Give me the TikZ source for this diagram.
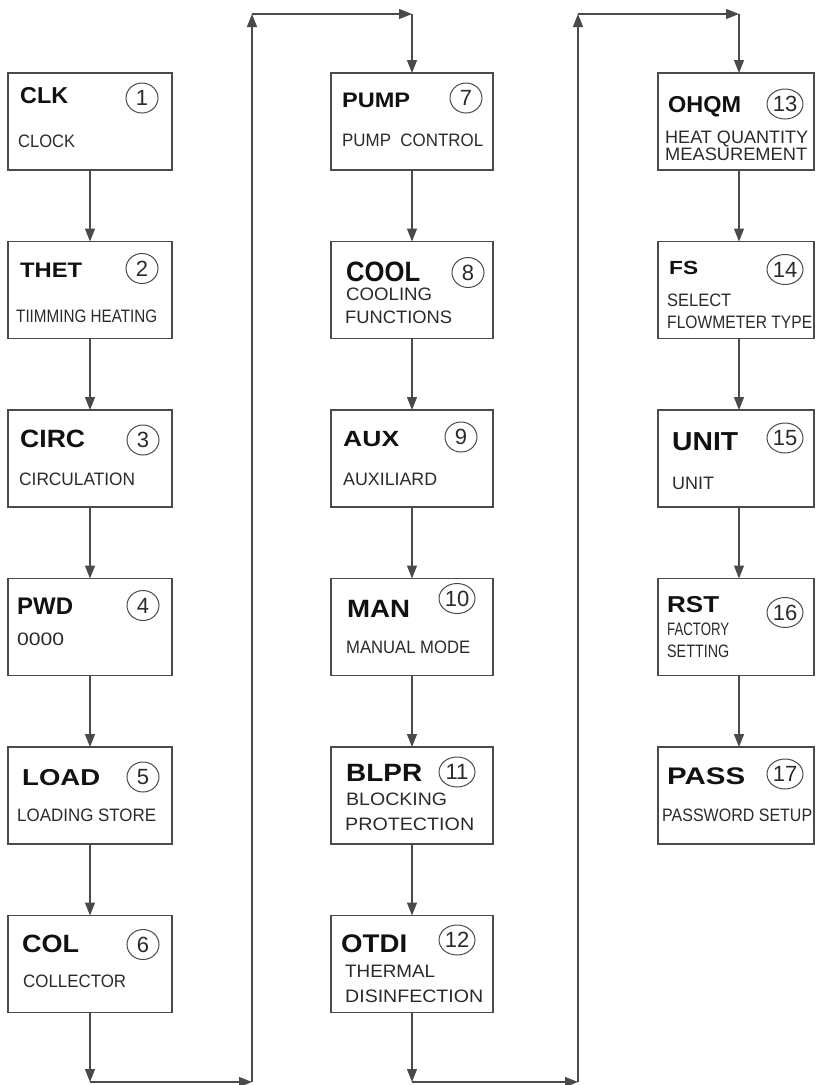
\documentclass[tikz,border=0pt]{standalone}
\usepackage{fontspec}
\setmainfont{Liberation Sans}
\usetikzlibrary{arrows.meta,calc,shapes.geometric}
\definecolor{linec}{HTML}{4A4A4A}
\definecolor{subc}{HTML}{2A2A2A}
\definecolor{ttlc}{HTML}{111111}
\newsavebox\fitbox
\newcommand\fitw[2]{\sbox\fitbox{#2}\pgfmathsetmacro\fitsc{#1/\the\wd\fitbox}\scalebox{\fitsc}[1]{\usebox\fitbox}}
\newcommand\tf[1]{\fontsize{#1}{#1}\selectfont\bfseries}
\tikzset{
  mbox/.style={draw=linec, line width=1.2pt, minimum height=97pt, anchor=north west, inner sep=0pt, outer sep=0pt},
  colA/.style={mbox, minimum width=164pt},
  colB/.style={mbox, minimum width=162pt},
  colC/.style={mbox, minimum width=156pt},
  ttl/.style={anchor=base west, inner sep=0pt, text=ttlc},
  sub/.style={anchor=base west, inner sep=0pt, text=subc, font=\fontsize{18}{18}\selectfont},
  num/.style={ellipse, draw=linec, line width=1pt, minimum width=32pt, minimum height=30pt, inner sep=0pt, text=subc, font=\fontsize{22}{22}\selectfont},
  numw/.style={num, minimum width=36pt},
  arr/.style={draw=linec, line width=1.2pt, -{Triangle[length=13pt,width=10pt]}}
}
\begin{document}
\begin{tikzpicture}[x=1pt,y=-1pt]
\useasboundingbox (0,0) rectangle (815,1085);
% ---------- column 1 ----------
\node[colA] (b1) at (8,73) {};
\node[colA] (b2) at (8,241.5) {};
\node[colA] (b3) at (8,410) {};
\node[colA] (b4) at (8,578.5) {};
\node[colA] (b5) at (8,747) {};
\node[colA] (b6) at (8,915.5) {};
% ---------- column 2 ----------
\node[colB] (b7) at (331,73) {};
\node[colB] (b8) at (331,241.5) {};
\node[colB] (b9) at (331,410) {};
\node[colB] (b10) at (331,578.5) {};
\node[colB] (b11) at (331,747) {};
\node[colB] (b12) at (331,915.5) {};
% ---------- column 3 ----------
\node[colC] (b13) at (658,73) {};
\node[colC] (b14) at (658,241.5) {};
\node[colC] (b15) at (658,410) {};
\node[colC] (b16) at (658,578.5) {};
\node[colC] (b17) at (658,747) {};

% ---------- texts column 1 ----------
\node[ttl,font=\tf{23}] (t1) at ($(b1.north west)+(12,30)$) {\fitw{48}{CLK}};
\node[num] (n1) at ($(b1.north west)+(134,25)$) {1};
\node[sub] (s1) at ($(b1.north west)+(10,74)$) {\fitw{57}{CLOCK}};

\node[ttl,font=\tf{21}] (t2) at ($(b2.north west)+(12,36)$) {\fitw{62}{THET}};
\node[num] (n2) at ($(b2.north west)+(134,27)$) {2};
\node[sub] (s2) at ($(b2.north west)+(8,81)$) {\fitw{141}{TIIMMING HEATING}};

\node[ttl,font=\tf{25}] (t3) at ($(b3.north west)+(12,37)$) {\fitw{65}{CIRC}};
\node[num] (n3) at ($(b3.north west)+(135,30)$) {3};
\node[sub] (s3) at ($(b3.north west)+(11,75)$) {\fitw{116}{CIRCULATION}};

\node[ttl,font=\tf{24}] (t4) at ($(b4.north west)+(9,36)$) {\fitw{56}{PWD}};
\node[num] (n4) at ($(b4.north west)+(135,27)$) {4};
\node[sub] (s4) at ($(b4.north west)+(9,67)$) {\fitw{47}{0000}};

\node[ttl,font=\tf{23}] (t5) at ($(b5.north west)+(14,38)$) {\fitw{78}{LOAD}};
\node[num] (n5) at ($(b5.north west)+(135,30)$) {5};
\node[sub] (s5) at ($(b5.north west)+(9,74)$) {\fitw{139}{LOADING STORE}};

\node[ttl,font=\tf{25}] (t6) at ($(b6.north west)+(14,37)$) {\fitw{57}{COL}};
\node[num] (n6) at ($(b6.north west)+(135,29)$) {6};
\node[sub] (s6) at ($(b6.north west)+(15,72)$) {\fitw{103}{COLLECTOR}};

% ---------- texts column 2 ----------
\node[ttl,font=\tf{21}] (t7) at ($(b7.north west)+(11,34)$) {\fitw{68}{PUMP}};
\node[num] (n7) at ($(b7.north west)+(135,25)$) {7};
\node[sub] (s7) at ($(b7.north west)+(11,73)$) {\fitw{141}{PUMP\ \ CONTROL}};

\node[ttl,font=\tf{28}] (t8) at ($(b8.north west)+(15,40)$) {\fitw{74}{COOL}};
\node[num] (n8) at ($(b8.north west)+(137,31)$) {8};
\node[sub] (s8a) at ($(b8.north west)+(15,59)$) {\fitw{86}{COOLING}};
\node[sub] (s8b) at ($(b8.north west)+(14,82)$) {\fitw{107}{FUNCTIONS}};

\node[ttl,font=\tf{22}] (t9) at ($(b9.north west)+(12,36)$) {\fitw{56}{AUX}};
\node[num] (n9) at ($(b9.north west)+(130,27)$) {9};
\node[sub] (s9) at ($(b9.north west)+(12,75)$) {\fitw{94}{AUXILIARD}};

\node[ttl,font=\tf{25}] (t10) at ($(b10.north west)+(16,38.5)$) {\fitw{63}{MAN}};
\node[numw] (n10) at ($(b10.north west)+(126,20)$) {10};
\node[sub] (s10) at ($(b10.north west)+(15,75)$) {\fitw{124}{MANUAL MODE}};

\node[ttl,font=\tf{25}] (t11) at ($(b11.north west)+(15,34)$) {\fitw{76}{BLPR}};
\node[numw] (n11) at ($(b11.north west)+(126,25)$) {11};
\node[sub] (s11a) at ($(b11.north west)+(15,58)$) {\fitw{101}{BLOCKING}};
\node[sub] (s11b) at ($(b11.north west)+(14,83)$) {\fitw{129}{PROTECTION}};

\node[ttl,font=\tf{25.5}] (t12) at ($(b12.north west)+(10,36.5)$) {\fitw{66}{OTDI}};
\node[numw] (n12) at ($(b12.north west)+(126,24.5)$) {12};
\node[sub] (s12a) at ($(b12.north west)+(14,62)$) {\fitw{90}{THERMAL}};
\node[sub] (s12b) at ($(b12.north west)+(14,86.5)$) {\fitw{138}{DISINFECTION}};

% ---------- texts column 3 ----------
\node[ttl,font=\tf{23}] (t13) at ($(b13.north west)+(10,39)$) {\fitw{73}{OHQM}};
\node[numw] (n13) at ($(b13.north west)+(127,31)$) {13};
\node[sub] (s13a) at ($(b13.north west)+(7,70)$) {\fitw{143}{HEAT QUANTITY}};
\node[sub] (s13b) at ($(b13.north west)+(7,87)$) {\fitw{142}{MEASUREMENT}};

\node[ttl,font=\tf{19}] (t14) at ($(b14.north west)+(11,33)$) {\fitw{29}{FS}};
\node[numw] (n14) at ($(b14.north west)+(127,28)$) {14};
\node[sub] (s14a) at ($(b14.north west)+(9,65)$) {\fitw{64}{SELECT}};
\node[sub] (s14b) at ($(b14.north west)+(9,87)$) {\fitw{145}{FLOWMETER TYPE}};

\node[ttl,font=\tf{26}] (t15) at ($(b15.north west)+(14,40)$) {\fitw{66}{UNIT}};
\node[numw] (n15) at ($(b15.north west)+(127,28)$) {15};
\node[sub] (s15) at ($(b15.north west)+(14,79)$) {\fitw{42}{UNIT}};

\node[ttl,font=\tf{23}] (t16) at ($(b16.north west)+(9,34)$) {\fitw{52}{RST}};
\node[numw] (n16) at ($(b16.north west)+(127,34)$) {16};
\node[sub] (s16a) at ($(b16.north west)+(9,57)$) {\fitw{62}{FACTORY}};
\node[sub] (s16b) at ($(b16.north west)+(9,79)$) {\fitw{62}{SETTING}};

\node[ttl,font=\tf{24}] (t17) at ($(b17.north west)+(9,37)$) {\fitw{78}{PASS}};
\node[numw] (n17) at ($(b17.north west)+(127,27)$) {17};
\node[sub] (s17) at ($(b17.north west)+(4,74)$) {\fitw{150}{PASSWORD SETUP}};

% ---------- connectors ----------
\foreach \a/\b in {b1/b2,b2/b3,b3/b4,b4/b5,b5/b6,b7/b8,b8/b9,b9/b10,b10/b11,b11/b12}
  \draw[arr] (\a.south) -- (\b.north);
\coordinate (cx3) at (739,0);
\foreach \a/\b in {b13/b14,b14/b15,b15/b16,b16/b17}
  \draw[arr] (\a.south -| cx3) -- (\b.north -| cx3);

\coordinate (bl1) at (90,1082);
\coordinate (br1) at (252,1082);
\coordinate (tl1) at (252,14);
\coordinate (tr1) at (412,14);
\draw[arr] (b6.south) -- (bl1);
\draw[arr] (bl1) -- (br1);
\draw[arr] (br1) -- (tl1);
\draw[arr] (tl1) -- (tr1);
\draw[arr] (tr1) -- (b7.north);

\coordinate (bl2) at (412,1082);
\coordinate (br2) at (578,1082);
\coordinate (tl2) at (578,14);
\coordinate (tr2) at (739,14);
\draw[arr] (b12.south) -- (bl2);
\draw[arr] (bl2) -- (br2);
\draw[arr] (br2) -- (tl2);
\draw[arr] (tl2) -- (tr2);
\draw[arr] (tr2) -- (b13.north -| cx3);
\end{tikzpicture}
\end{document}
